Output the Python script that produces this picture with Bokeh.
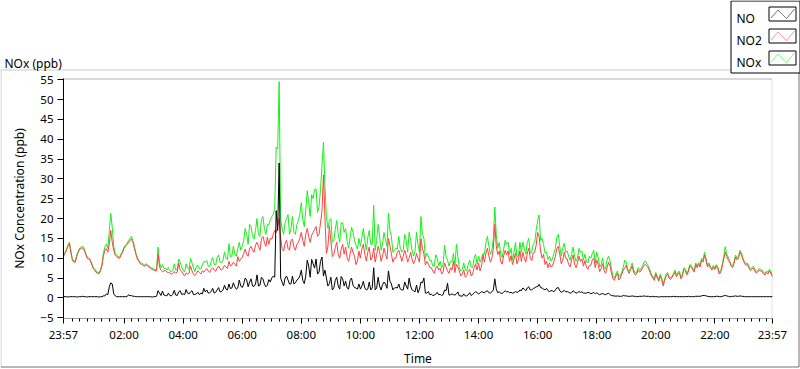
import numpy as np
from bokeh.plotting import figure
from bokeh.layouts import column
from bokeh.models import (Range1d, FixedTicker, SingleIntervalTicker, BoxAnnotation,
                          PolyAnnotation, Label)
from bokeh.embed import file_html
from bokeh.resources import INLINE

# ---- data, every 3 minutes starting 23:57 ----
# *_A: readings at 23:57, 00:03, 00:09, ... (every 6 min)
# *_B: readings in between, at 00:00, 00:06, 00:12, ...
STEP_MIN = 3
NO2_A = [10.5, 12.0, 13.7, 9.5, 9.0, 11.5, 12.5, 12.0, 10.0, 9.5, 7.5, 6.5, 6.0, 8.0, 12.0, 11.5, 17.0, 12.0, 10.5, 10.0, 11.5,
         13.0, 13.8, 14.8, 12.5, 9.8, 8.6, 8.2, 8.3, 7.7, 7.2, 6.9, 11.0, 7.0, 6.8, 6.5, 6.3, 6.1, 6.3, 8.8, 6.7,
         5.5, 6.0, 8.0, 6.0, 6.2, 6.4, 6.8, 7.0, 6.8, 7.2, 7.0, 7.5, 7.3, 7.5, 7.8, 9.2, 8.3, 8.5, 10.4, 9.8,
         11.2, 11.0, 12.4, 12.0, 13.3, 13.0, 14.9, 14.0, 15.3, 15.0, 16.0, 16.5, 20.0, 12.4, 13.7, 12.5, 14.5, 12.8, 13.5, 15.0,
         14.5, 16.0, 15.5, 15.8, 17.3, 15.5, 18.9, 31.0, 11.2, 18.0, 10.4, 12.7, 10.9, 12.3, 11.0, 10.1, 11.0, 11.5, 8.4, 11.8,
         12.3, 11.0, 11.5, 9.5, 12.5, 10.9, 11.6, 10.5, 11.0, 15.0, 11.0, 10.0, 11.5, 10.7, 10.5, 10.8, 10.0, 9.8, 9.5, 10.0,
         14.9, 11.0, 9.2, 7.6, 6.8, 7.5, 7.0, 6.0, 8.8, 6.8, 7.6, 9.2, 8.5, 6.8, 6.0, 5.2, 6.8, 5.5, 7.6, 7.0,
         6.8, 10.9, 11.3, 10.5, 10.0, 18.5, 10.9, 9.2, 10.6, 10.9, 9.2, 8.4, 11.3, 9.6, 9.2, 10.0, 11.3, 10.0, 11.3, 13.3,
         15.5, 10.0, 8.4, 7.6, 7.8, 9.2, 12.4, 10.9, 9.5, 10.0, 8.4, 9.6, 8.5, 8.8, 9.2, 8.0, 7.8, 8.2, 9.6, 7.6,
         8.4, 7.5, 6.8, 7.6, 8.0, 4.8, 5.5, 4.5, 6.0, 7.6, 6.8, 7.2, 6.5, 6.0, 6.5, 7.6, 8.4, 7.5, 5.5, 4.4,
         5.0, 5.5, 3.0, 5.5, 5.0, 5.2, 6.5, 6.0, 4.8, 7.2, 5.8, 8.0, 7.0, 8.4, 8.5, 9.6, 10.8, 7.8, 7.5, 7.8,
         8.0, 6.0, 8.0, 11.5, 9.6, 8.0, 8.8, 9.6, 11.5, 9.6, 8.2, 7.6, 7.2, 6.8, 6.5, 6.8, 6.0, 6.4, 6.8, 5.2]
NO2_B = [11.2, 13.0, 11.5, 9.0, 10.5, 12.3, 12.6, 11.0, 9.8, 8.5, 7.0, 6.2, 6.8, 10.5, 12.4, 13.5, 14.0, 10.8, 10.0, 10.8,
         12.5, 13.5, 14.5, 14.0, 11.0, 9.2, 8.4, 8.0, 8.0, 7.4, 7.0, 6.8, 7.8, 6.6, 6.9, 6.4, 6.0, 6.6, 6.5, 7.0,
         6.0, 6.3, 6.2, 6.8, 5.6, 6.8, 6.0, 6.5, 7.4, 6.4, 7.6, 6.7, 8.0, 7.0, 8.2, 7.4, 8.0, 9.0, 8.0, 9.2,
         10.2, 12.3, 10.5, 13.0, 11.5, 14.0, 12.0, 15.5, 13.0, 13.5, 14.8, 17.0, 18.0, 15.0, 11.8, 14.5, 12.0, 14.8, 12.0, 14.0,
         16.5, 13.0, 17.5, 14.0, 16.5, 18.0, 16.0, 22.0, 20.0, 13.0, 14.5, 11.0, 14.0, 10.0, 13.5, 12.8, 9.2, 12.8, 10.5, 9.3,
         10.0, 13.5, 9.3, 12.8, 10.2, 9.0, 13.0, 9.2, 12.5, 9.8, 13.2, 9.0, 10.0, 12.0, 9.2, 12.0, 9.0, 11.5, 8.6, 11.2,
         9.0, 12.5, 8.3, 8.6, 7.6, 6.2, 8.0, 7.5, 6.5, 7.8, 6.2, 7.0, 6.4, 7.8, 5.5, 7.0, 5.6, 7.2, 6.0, 8.6,
         8.8, 8.0, 9.0, 12.5, 9.0, 12.5, 13.0, 11.8, 8.5, 12.0, 11.8, 10.6, 9.8, 8.6, 11.8, 11.5, 9.0, 12.5, 9.4, 11.5,
         16.5, 11.8, 11.0, 9.3, 8.8, 8.0, 10.4, 13.0, 8.6, 11.5, 9.8, 7.8, 10.8, 7.6, 10.5, 9.8, 9.4, 7.2, 8.2, 10.0,
         9.5, 6.6, 8.6, 6.2, 9.0, 6.2, 4.4, 6.2, 5.0, 7.0, 8.2, 6.2, 8.0, 5.8, 7.0, 6.8, 8.2, 8.0, 6.5, 5.0,
         6.0, 4.2, 4.6, 4.4, 6.0, 4.6, 5.8, 5.3, 6.3, 5.5, 6.8, 6.5, 7.8, 6.5, 7.6, 7.8, 9.0, 9.4, 8.4, 7.0,
         7.2, 7.3, 6.5, 9.8, 10.5, 9.0, 7.6, 10.3, 10.0, 10.8, 8.8, 8.4, 6.9, 7.6, 6.2, 7.0, 6.6, 5.8, 6.0, 6.2]

NOX_A = [10.9, 12.3, 14.0, 9.8, 9.3, 11.8, 12.9, 12.4, 10.3, 9.8, 7.8, 6.8, 6.3, 8.3, 12.8, 12.5, 21.3, 13.0, 10.8, 10.3, 11.8,
         13.3, 14.4, 15.5, 13.0, 10.1, 8.9, 8.5, 8.6, 8.0, 7.5, 7.2, 12.8, 7.6, 7.4, 7.0, 6.8, 6.9, 7.0, 9.8, 7.8,
         6.5, 7.5, 10.0, 7.5, 8.0, 7.2, 8.3, 9.0, 8.0, 9.3, 8.5, 10.2, 9.0, 9.5, 10.0, 13.7, 10.5, 11.0, 12.4, 12.0,
         14.5, 16.0, 18.5, 15.5, 17.0, 16.0, 19.7, 17.5, 18.5, 19.7, 21.0, 38.0, 54.5, 17.5, 19.0, 21.0, 17.5, 16.5, 18.5, 21.0,
         19.7, 22.0, 24.0, 26.0, 27.3, 21.6, 27.3, 39.2, 20.5, 19.5, 14.0, 17.3, 16.0, 18.9, 16.5, 14.3, 15.0, 16.5, 13.3, 15.0,
         15.2, 14.5, 15.2, 13.5, 23.3, 14.5, 15.5, 13.5, 14.5, 21.3, 15.5, 12.0, 12.3, 12.5, 12.0, 14.5, 16.5, 12.0, 11.8, 13.5,
         20.5, 15.0, 11.2, 9.3, 8.0, 10.9, 8.0, 7.5, 13.3, 9.5, 9.3, 11.2, 13.5, 7.5, 7.2, 7.0, 8.5, 7.8, 10.0, 8.5,
         9.0, 11.2, 14.0, 13.0, 12.0, 22.9, 12.5, 11.0, 12.3, 13.5, 11.0, 9.5, 14.0, 10.5, 11.5, 12.3, 14.0, 11.2, 13.5, 17.0,
         20.9, 15.0, 11.3, 9.7, 9.3, 11.2, 15.3, 12.9, 12.5, 11.5, 10.5, 11.0, 10.5, 10.0, 11.5, 9.5, 9.3, 10.5, 11.2, 8.8,
         10.2, 8.5, 7.5, 9.7, 9.3, 5.5, 6.0, 5.3, 6.5, 9.5, 7.0, 7.6, 7.0, 6.4, 7.0, 8.0, 9.3, 8.0, 6.0, 4.8,
         5.5, 6.0, 3.5, 6.0, 5.3, 5.5, 7.0, 6.5, 5.2, 7.6, 6.2, 8.4, 7.4, 8.8, 8.9, 10.0, 11.5, 8.2, 7.9, 8.2,
         8.4, 6.4, 8.5, 12.9, 10.3, 8.4, 9.2, 10.0, 12.0, 10.0, 8.6, 8.0, 7.6, 7.2, 6.9, 7.2, 6.4, 6.8, 7.2, 5.6]
NOX_B = [11.5, 13.3, 11.8, 9.3, 10.8, 12.6, 13.0, 11.3, 10.1, 8.8, 7.3, 6.5, 7.1, 11.2, 13.6, 16.8, 17.8, 11.2, 10.3, 11.1,
         12.8, 13.8, 15.0, 14.4, 11.3, 9.5, 8.7, 8.3, 8.3, 7.7, 7.3, 7.1, 8.9, 8.4, 7.5, 7.7, 6.6, 8.6, 7.2, 9.0,
         7.0, 8.6, 7.2, 8.8, 6.6, 8.2, 7.3, 9.2, 9.4, 7.8, 10.2, 8.2, 10.8, 8.8, 11.6, 9.6, 10.4, 13.0, 10.5, 14.0,
         13.0, 17.5, 13.5, 18.0, 14.8, 20.0, 15.5, 20.5, 16.0, 18.5, 20.5, 22.5, 37.5, 20.0, 16.0, 20.0, 16.0, 20.5, 16.0, 19.5,
         24.0, 18.0, 27.0, 20.5, 25.0, 27.5, 23.0, 33.4, 28.0, 17.5, 20.0, 14.5, 19.5, 14.0, 18.9, 17.5, 12.5, 17.8, 14.5, 12.3,
         13.0, 17.5, 12.0, 17.0, 13.5, 12.0, 18.5, 12.0, 16.5, 13.0, 17.0, 11.5, 12.5, 15.5, 11.5, 16.0, 11.5, 14.5, 10.5, 16.5,
         11.5, 16.0, 10.0, 10.5, 9.5, 8.0, 10.0, 9.2, 8.5, 10.5, 8.0, 9.0, 8.0, 10.5, 6.8, 8.8, 6.8, 9.5, 7.6, 11.0,
         10.5, 9.8, 11.0, 15.5, 11.0, 15.0, 16.0, 14.0, 10.2, 14.5, 14.0, 12.5, 11.5, 10.5, 14.0, 14.0, 11.0, 15.0, 11.5, 14.0,
         19.5, 14.5, 13.5, 11.5, 10.5, 9.8, 12.5, 16.0, 10.5, 13.8, 11.8, 9.5, 12.8, 9.2, 12.5, 11.8, 11.0, 8.8, 10.0, 12.0,
         11.5, 7.8, 10.0, 7.3, 10.5, 7.2, 5.0, 6.8, 5.6, 7.8, 9.0, 6.8, 8.8, 6.3, 7.6, 7.3, 9.0, 8.6, 7.0, 5.4,
         6.4, 4.6, 5.0, 4.8, 6.4, 5.0, 6.2, 5.7, 6.7, 5.9, 7.3, 6.9, 8.2, 6.9, 8.0, 8.3, 9.6, 9.9, 8.8, 7.4,
         7.6, 7.7, 6.9, 10.4, 11.0, 9.4, 8.0, 10.8, 10.5, 11.3, 9.2, 8.8, 7.3, 8.0, 6.6, 7.4, 7.0, 6.2, 6.4, 6.6]

NO_A = [0.3, 0.3, 0.3, 0.3, 0.3, 0.3, 0.3, 0.3, 0.2, 0.3, 0.3, 0.3, 0.2, 0.3, 0.5, 0.8, 3.8, 1.0, 0.3, 0.3, 0.3,
        0.3, 0.8, 0.6, 0.4, 0.3, 0.3, 0.3, 0.3, 0.3, 0.2, 0.3, 1.8, 0.6, 0.7, 0.5, 0.6, 0.9, 0.7, 1.5, 0.9,
        0.8, 1.2, 1.5, 0.8, 1.0, 0.8, 1.0, 1.5, 1.2, 1.6, 1.2, 2.0, 1.5, 2.0, 2.2, 3.5, 2.5, 2.8, 2.5, 3.0,
        3.5, 4.5, 4.0, 3.0, 3.5, 3.0, 5.2, 3.5, 3.2, 4.0, 5.5, 22.0, 34.0, 4.0, 5.0, 4.5, 3.5, 3.5, 4.5, 5.5,
        4.4, 5.5, 8.0, 9.7, 7.5, 6.0, 9.2, 5.5, 5.0, 3.6, 2.0, 4.4, 3.0, 5.4, 3.0, 2.5, 4.4, 3.2, 2.5, 3.5,
        3.0, 2.5, 2.2, 2.0, 7.6, 2.5, 3.0, 3.3, 3.5, 6.8, 3.5, 2.5, 2.5, 2.2, 2.0, 3.0, 5.0, 2.0, 1.5, 1.3,
        4.0, 5.0, 1.2, 0.8, 0.6, 0.9, 0.8, 0.6, 2.0, 3.7, 0.8, 0.8, 1.0, 0.5, 0.4, 0.5, 0.8, 0.6, 1.2, 1.3,
        1.2, 1.4, 1.6, 1.3, 1.5, 4.8, 1.3, 1.2, 1.4, 1.5, 1.3, 1.2, 1.6, 1.5, 1.8, 2.2, 2.5, 2.0, 2.4, 2.8,
        3.4, 2.5, 2.0, 1.8, 1.8, 1.5, 2.5, 1.8, 1.6, 1.5, 1.4, 1.3, 1.5, 1.3, 1.4, 1.2, 1.2, 1.3, 1.2, 1.0,
        1.0, 1.0, 0.9, 1.0, 0.8, 0.5, 0.4, 0.4, 0.4, 0.5, 0.4, 0.4, 0.4, 0.3, 0.4, 0.4, 0.4, 0.4, 0.3, 0.3,
        0.3, 0.3, 0.3, 0.3, 0.3, 0.3, 0.3, 0.3, 0.3, 0.3, 0.3, 0.3, 0.3, 0.4, 0.4, 0.5, 0.6, 0.4, 0.3, 0.3,
        0.4, 0.3, 0.4, 0.6, 0.4, 0.3, 0.4, 0.4, 0.5, 0.4, 0.3, 0.3, 0.3, 0.3, 0.3, 0.3, 0.3, 0.3, 0.3, 0.3]
NO_B = [0.3, 0.2, 0.3, 0.3, 0.2, 0.3, 0.4, 0.3, 0.3, 0.3, 0.3, 0.3, 0.3, 0.5, 1.0, 2.8, 3.5, 0.5, 0.3, 0.3,
        0.3, 0.3, 0.5, 0.4, 0.3, 0.3, 0.3, 0.3, 0.3, 0.3, 0.3, 0.4, 1.2, 1.7, 0.6, 1.2, 0.5, 1.9, 0.6, 1.8,
        1.0, 2.1, 1.0, 1.8, 0.9, 1.4, 1.2, 2.4, 2.0, 1.3, 2.4, 1.4, 2.6, 1.6, 3.2, 2.0, 2.3, 3.8, 2.2, 4.5,
        2.6, 5.0, 2.8, 4.8, 2.9, 5.8, 3.2, 4.8, 2.8, 4.6, 5.0, 5.2, 17.0, 5.0, 3.0, 5.5, 3.5, 5.5, 3.8, 4.8,
        7.0, 3.6, 9.5, 5.2, 8.6, 9.8, 6.5, 10.3, 7.0, 3.0, 5.2, 2.5, 5.2, 2.2, 4.8, 4.2, 2.2, 5.0, 2.6, 2.2,
        2.2, 4.2, 2.0, 4.0, 2.5, 2.0, 5.2, 2.0, 4.0, 2.4, 4.2, 2.0, 2.6, 3.5, 2.0, 4.0, 2.2, 3.0, 1.8, 3.2,
        2.2, 3.8, 1.2, 1.6, 0.9, 0.7, 1.4, 0.9, 0.8, 1.8, 0.7, 1.0, 0.7, 1.5, 0.5, 1.0, 0.5, 1.3, 0.9, 1.6,
        1.0, 1.6, 1.3, 1.8, 1.2, 2.0, 2.2, 1.5, 1.1, 1.8, 1.6, 1.4, 1.3, 1.4, 2.0, 2.5, 1.8, 2.8, 2.0, 2.5,
        2.8, 2.6, 2.2, 2.4, 1.6, 1.8, 2.0, 2.6, 1.4, 1.9, 1.6, 1.2, 1.8, 1.2, 1.6, 1.5, 1.2, 1.4, 1.0, 1.4,
        1.3, 0.8, 1.1, 0.8, 1.2, 0.6, 0.5, 0.5, 0.4, 0.6, 0.5, 0.4, 0.5, 0.4, 0.3, 0.4, 0.5, 0.4, 0.3, 0.4,
        0.3, 0.2, 0.3, 0.3, 0.3, 0.3, 0.4, 0.3, 0.3, 0.3, 0.3, 0.4, 0.3, 0.3, 0.4, 0.4, 0.6, 0.5, 0.3, 0.3,
        0.3, 0.4, 0.3, 0.5, 0.5, 0.3, 0.4, 0.5, 0.4, 0.4, 0.3, 0.3, 0.3, 0.3, 0.3, 0.3, 0.3, 0.3, 0.3, 0.3]

TICK_LABELS = ["23:57", "02:00", "04:00", "06:00", "08:00", "10:00", "12:00",
               "14:00", "16:00", "18:00", "20:00", "22:00", "23:57"]
TICK_MINUTES = [0, 123, 243, 363, 483, 603, 723, 843, 963, 1083, 1203, 1323, 1440]
SERIES_NAMES = ["NO", "NO2", "NOx"]
SERIES_COLORS = ["#000000", "#ff4040", "#18f018"]


def interleave(a, b):
    out = []
    for k, v in enumerate(a):
        out.append(v)
        if k < len(b):
            out.append(b[k])
    return out


NO2 = interleave(NO2_A, NO2_B)
NOX = interleave(NOX_A, NOX_B)
NO = interleave(NO_A, NO_B)
t = np.arange(len(NO2)) * STEP_MIN

FONT = "Noto Sans"
W, H = 800, 369

# ---------- background layer: panel frame, title and legend ----------
bg = figure(width=W, height=H, x_range=Range1d(0, W), y_range=Range1d(0, H),
            output_backend="svg", toolbar_location=None, min_border=0,
            x_axis_location=None, y_axis_location=None)
bg.frame_align = False
bg.grid.visible = False
bg.outline_line_color = None
bg.background_fill_color = "white"
bg.border_fill_color = "white"


def polyline(fig, xs, ys, color):
    # open polyline drawn as a degenerate polygon (forward then back)
    px = list(xs) + list(xs[-2:0:-1])
    py = list(ys) + list(ys[-2:0:-1])
    fig.add_layout(PolyAnnotation(xs=px, ys=py, xs_units="canvas", ys_units="canvas",
                                  fill_color=None, fill_alpha=0, line_color=color, line_width=1))


def box(fig, l, r, t_, b, lc):
    fig.add_layout(BoxAnnotation(left=l, right=r, top=t_, bottom=b,
                                 left_units="canvas", right_units="canvas",
                                 top_units="canvas", bottom_units="canvas",
                                 fill_color="white", fill_alpha=1, line_color=lc,
                                 line_alpha=1, line_width=1))


# outer panel frame (light top/left, dark bottom/right)
polyline(bg, [0.5, 0.5, 797.5], [366.5, 69.5, 69.5], "#a0a0a0")
polyline(bg, [0.5, 798.5, 798.5], [366.5, 366.5, 69.5], "#000000")
# plot area: dark top, light right
polyline(bg, [62.5, 771.5], [78.5, 78.5], "#000000")
polyline(bg, [771.5, 771.5], [78.5, 329.5], "#a0a0a0")

bg.add_layout(Label(x=4, y=63, x_units="canvas", y_units="canvas", text="NOx (ppb)",
                    text_font=FONT, text_font_size="12px", text_baseline="alphabetic",
                    text_color="black"))

# legend
box(bg, 730.5, 799.5, 0.5, 72.5, "black")
for k, (name, col) in enumerate(zip(SERIES_NAMES, SERIES_COLORS)):
    top = 6 + 22 * k
    bg.add_layout(Label(x=736, y=top + 11.5, x_units="canvas", y_units="canvas", text=name,
                        text_font=FONT, text_font_size="12px", text_baseline="alphabetic",
                        text_color="black"))
    box(bg, 768.5, 795.5, top + 0.5, top + 14.5, "black")
    polyline(bg, [770.5, 777.5, 786.0, 794.0], [top + 11.5, top + 3.5, top + 12.0, top + 2.5], col)

# ---------- chart layer ----------
p = figure(width=W, height=H, x_range=Range1d(0, 1440), y_range=Range1d(-5.2, 55.3),
           output_backend="svg", toolbar_location=None,
           min_border_left=63, min_border_right=28, min_border_top=78, min_border_bottom=39,
           x_axis_label="Time", y_axis_label="NOx Concentration (ppb)")
p.frame_align = False
p.margin = (-H, 0, 0, 0)
p.outline_line_color = None
p.grid.visible = False
p.background_fill_color = None
p.border_fill_color = None

p.line(t, NOX, color=SERIES_COLORS[2], line_width=1)
p.line(t, NO2, color=SERIES_COLORS[1], line_width=1)
p.line(t, NO, color=SERIES_COLORS[0], line_width=1)

minor = list(range(18, 1440, 15))
p.xaxis.ticker = FixedTicker(ticks=TICK_MINUTES, minor_ticks=minor)
p.xaxis.major_label_overrides = {m: lab for m, lab in zip(TICK_MINUTES, TICK_LABELS)}
p.xaxis.axis_line_color = "#a0a0a0"
p.xaxis.major_tick_out = 5
p.xaxis.major_tick_in = 0
p.xaxis.minor_tick_out = 3
p.xaxis.minor_tick_in = 0
p.xaxis.major_label_standoff = 3
p.xaxis.axis_label_standoff = 5

p.yaxis.ticker = SingleIntervalTicker(interval=5, num_minor_ticks=0)
p.yaxis.major_tick_out = 6
p.yaxis.major_tick_in = 0
p.yaxis.major_label_standoff = 4
p.yaxis.axis_label_standoff = 9
p.yaxis.axis_line_color = "black"

for ax in (p.xaxis[0], p.yaxis[0]):
    ax.major_label_text_font = FONT
    ax.major_label_text_font_size = "11.5px"
    ax.major_label_text_color = "black"
    ax.axis_label_text_font = FONT
    ax.axis_label_text_font_size = "12px"
    ax.axis_label_text_font_style = "normal"
    ax.axis_label_text_color = "black"
    ax.major_tick_line_color = "black"
p.xaxis.minor_tick_line_color = "black"
p.yaxis.minor_tick_line_color = None

layout = column(bg, p, spacing=0)
open("out.html", "w").write(file_html(layout, INLINE))
